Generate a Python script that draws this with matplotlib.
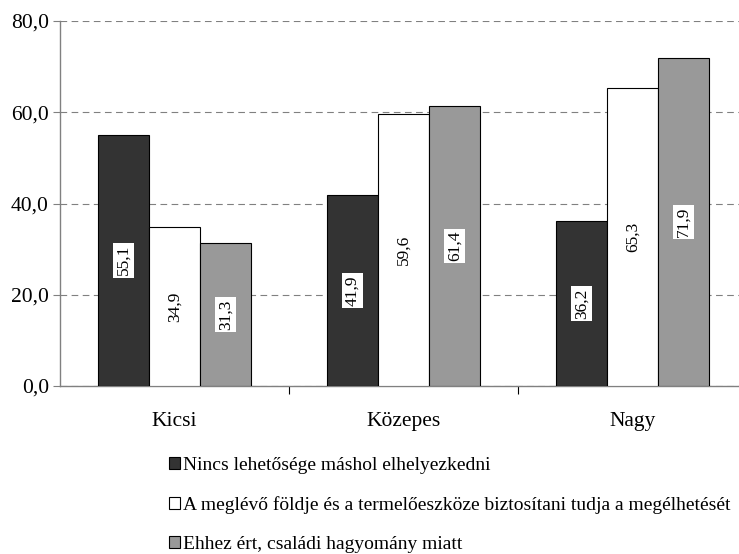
import numpy as np
import matplotlib
matplotlib.use("Agg")
import matplotlib.pyplot as plt

# adatok
kategoriak = ["Kicsi", "Közepes", "Nagy"]
sorozatok = ["Nincs lehetősége máshol elhelyezkedni",
             "A meglévő földje és a termelőeszköze biztosítani tudja a megélhetését",
             "Ehhez ért, családi hagyomány miatt"]
nincs = [55.1, 41.9, 36.2]
meglevo = [34.9, 59.6, 65.3]
ehhez = [31.3, 61.4, 71.9]
szinek = ["#333333", "#ffffff", "#999999"]

plt.rcParams['font.family'] = ['Liberation Serif', 'DejaVu Serif']

fig = plt.figure(figsize=(7.39, 5.54), dpi=100)
ax = fig.add_axes([60/739, 1-386/554, 679/739, 365/554])

x = np.arange(len(kategoriak))
w = 0.223
ertekek = [nincs, meglevo, ehhez]
handles = []
for i, (v, c) in enumerate(zip(ertekek, szinek)):
    b = ax.bar(x + (i-1)*w, v, width=w, color=c, edgecolor="black", linewidth=0.8, label=sorozatok[i], zorder=3)
    handles.append(b)
    for xi, vi in zip(x + (i-1)*w, v):
        ax.text(xi, vi/2, f"{vi:.1f}".replace(".", ","), rotation=90, ha="center", va="center",
                fontsize=12.5, zorder=4,
                bbox=dict(facecolor="white", edgecolor="none", pad=1.5))

ax.set_ylim(0, 80)
ax.set_xlim(-0.5, -0.5 + 679/229)
ax.set_yticks([0, 20, 40, 60, 80])
ax.set_yticklabels([f"{t:.1f}".replace(".", ",") for t in [0, 20, 40, 60, 80]], fontsize=15.5)
ax.yaxis.grid(True, linestyle=(0, (6, 4)), color="#808080", linewidth=0.8, zorder=0)
ax.tick_params(axis="y", length=5, color="#808080", pad=3)

ax.set_xticks([0.5, 1.5])
ax.set_xticklabels([])
ax.set_xticks(x, minor=True)
ax.set_xticklabels(kategoriak, minor=True, fontsize=15.5)
ax.tick_params(axis="x", which="major", length=6, color="black")
ax.tick_params(axis="x", which="minor", length=0, pad=19)

for s in ["top", "right"]:
    ax.spines[s].set_visible(False)
ax.spines["left"].set_color("#808080")
ax.spines["bottom"].set_color("#808080")
ax.spines["left"].set_linewidth(1.0)
ax.spines["bottom"].set_linewidth(1.0)

fig.legend(handles=handles, loc="upper left", bbox_to_anchor=(169/739, 1-457/554),
           frameon=False, fontsize=14, handlelength=0.58, handleheight=0.58,
           handletextpad=0.15, labelspacing=1.14, borderaxespad=0, borderpad=0)

fig.savefig("out.png", dpi=100)
